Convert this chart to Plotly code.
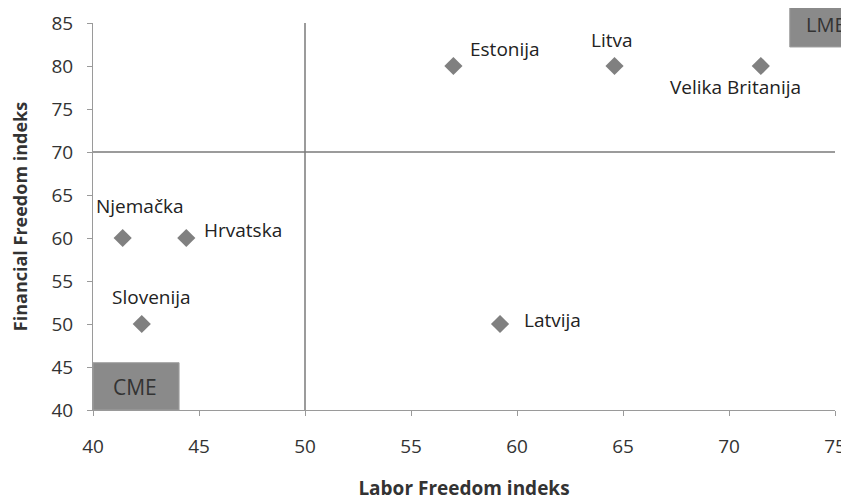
import plotly.graph_objects as go

countries = ["Estonija", "Litva", "Velika Britanija", "Njemačka", "Hrvatska", "Slovenija", "Latvija"]
labor = [57.0, 64.6, 71.5, 41.4, 44.4, 42.3, 59.2]
financial = [80, 80, 80, 60, 60, 50, 50]
# label placement (pixels) for each country label
label_dx = [15, -3, -25, 17, 16, 10, 22]
label_dy = [17, 26, -21, 32, 8, 27, 4]
label_anchor = ["left", "center", "center", "center", "left", "center", "left"]

x_ticks = [40, 45, 50, 55, 60, 65, 70, 75]
y_ticks = [40, 45, 50, 55, 60, 65, 70, 75, 80, 85]

FONT = "Open Sans"
TXT = "#333333"
GREY = "#808080"

fig = go.Figure()
fig.add_trace(go.Scatter(
    x=labor, y=financial, mode="markers",
    marker=dict(symbol="diamond", size=14, color=GREY),
    hoverinfo="text", text=countries, showlegend=False,
))

for c, x, y, dx, dy, a in zip(countries, labor, financial, label_dx, label_dy, label_anchor):
    fig.add_annotation(x=x, y=y, text=c, showarrow=False, xshift=dx, yshift=dy,
                       xanchor=a, yanchor="middle",
                       font=dict(family=FONT, size=19, color="#222222"))

# quadrant lines
fig.add_shape(type="line", x0=50, x1=50, y0=40, y1=85, xref="x", yref="y",
              line=dict(color="#7a7a7a", width=1.5))
fig.add_shape(type="line", x0=40, x1=75, y0=70, y1=70, xref="x", yref="y",
              line=dict(color="#7a7a7a", width=1.5))

# CME box
fig.add_shape(type="rect", x0=40, x1=44.06, y0=40, y1=45.5, xref="x", yref="y",
              fillcolor="#8a8a8a", line=dict(color="#a0a0a0", width=1), layer="above")
fig.add_annotation(x=42.0, y=42.7, text="CME", showarrow=False, xref="x", yref="y",
                   xanchor="center", yanchor="middle",
                   font=dict(family=FONT, size=21, color=TXT))

# LME box (extends beyond plot area)
fig.add_shape(type="rect", x0=0.939, x1=1.05, y0=0.938, y1=1.06, xref="paper", yref="paper",
              fillcolor="#8a8a8a", line=dict(color="#a0a0a0", width=1), layer="above")
fig.add_annotation(x=0.958, y=0.997, text="LME", showarrow=False, xref="paper", yref="paper",
                   xanchor="left", yanchor="middle",
                   font=dict(family=FONT, size=20, color=TXT))

fig.update_layout(
    width=841, height=493,
    margin=dict(l=85, r=14, t=15, b=91),
    paper_bgcolor="white", plot_bgcolor="white",
    font=dict(family=FONT, color=TXT),
    xaxis=dict(range=[40, 75], tickvals=x_ticks, showgrid=False, zeroline=False,
               showline=True, linecolor="#9a9a9a", linewidth=1, automargin=False,
               ticks="outside", ticklen=5, tickcolor="#9a9a9a",
               tickfont=dict(family=FONT, size=19, color=TXT),
               ticklabelstandoff=14,
               title=dict(text="<b>Labor Freedom indeks</b>", standoff=33,
                          font=dict(family=FONT, size=19, color=TXT))),
    yaxis=dict(range=[40, 85], tickvals=y_ticks, showgrid=False, zeroline=False,
               showline=True, linecolor="#9a9a9a", linewidth=1, automargin=False,
               ticks="outside", ticklen=5, tickcolor="#9a9a9a",
               tickfont=dict(family=FONT, size=19, color=TXT),
               ticklabelstandoff=10,
               title=dict(text="<b>Financial Freedom indeks</b>", standoff=20,
                          font=dict(family=FONT, size=18, color=TXT))),
)

fig.write_html("out.html")
